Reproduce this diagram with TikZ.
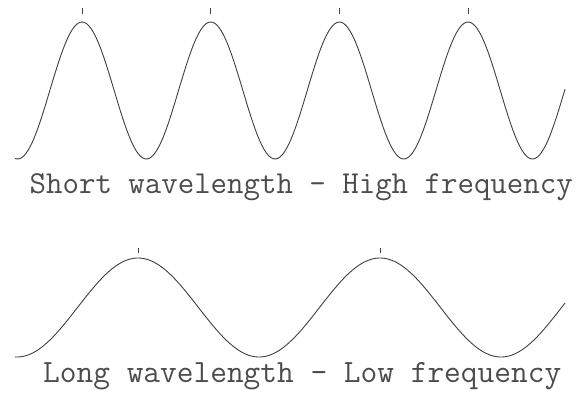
\documentclass[tikz,border=0pt]{standalone}
\usepackage{fontspec}
\begin{document}
\begin{tikzpicture}[x=1pt,y=-1pt,
  wave/.style={line width=0.9pt,color=black!75,line join=round},
  tick/.style={line width=0.7pt,color=black!75},
  caption/.style={inner sep=0pt,text=black!70,font=\ttfamily\fontsize{30}{32}\selectfont}]
\useasboundingbox[fill=white] (0,0) rectangle (578,394);
% top wave
\draw[wave] plot[domain=15:565,samples=300,smooth] (\x,{90.5-68.5*cos(((\x-82)/128.7)*360)});
\foreach \p [count=\i] in {82,210.7,339.4,468}
  \draw[tick] (\p,8) coordinate (ta\i) -- (\p,14) coordinate (tb\i);
% bottom wave
\draw[wave] plot[domain=15:565,samples=300,smooth] (\x,{307.5-49.5*cos(((\x-138)/242)*360)});
\foreach \p [count=\i] in {138,380}
  \draw[tick] (\p,248) coordinate (ba\i) -- (\p,253) coordinate (bb\i);
% captions
\node[caption,anchor=base west] (short) at (29.5,193) {\resizebox{543pt}{!}{Short wavelength \textendash{} High frequency}};
\node[caption,anchor=base west] (long) at (43,382) {\resizebox{518pt}{!}{Long wavelength \textendash{} Low frequency}};
\end{tikzpicture}
\end{document}
